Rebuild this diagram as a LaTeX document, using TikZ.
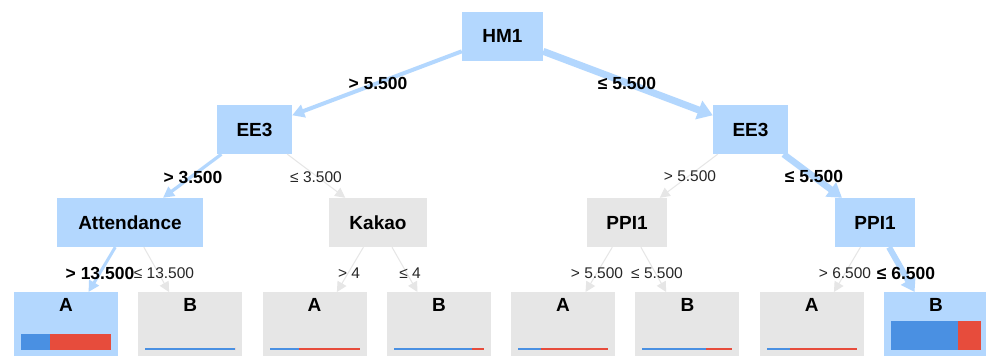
\documentclass[tikz,border=0pt]{standalone}
\usepackage{fontspec}
\setmainfont{Liberation Sans}
\usetikzlibrary{arrows.meta,calc}
\definecolor{nodeblue}{RGB}{179,215,254}
\definecolor{nodegray}{RGB}{230,230,230}
\definecolor{edgegray}{RGB}{230,230,230}
\definecolor{barblue}{RGB}{74,144,226}
\definecolor{barred}{RGB}{231,76,60}
\newcommand{\leafbar}[3]{%
  \fill[barblue] ($(#1.north)+(-45,58)$) rectangle ($(#1.north)+(-45+90*#2,58-#3)$);
  \fill[barred] ($(#1.north)+(-45+90*#2,58)$) rectangle ($(#1.north)+(45,58-#3)$);
}
\begin{document}
\begin{tikzpicture}[x=1pt,y=-1pt,
  box/.style={rectangle, inner sep=0pt, minimum height=49pt, font=\fontsize{19}{21}\selectfont\bfseries},
  bluebox/.style={box, fill=nodeblue},
  graybox/.style={box, fill=nodegray},
  leafbox/.style={rectangle, inner sep=0pt, minimum width=104pt, minimum height=75pt, anchor=north},
  leafblue/.style={leafbox, fill=nodeblue},
  leafgray/.style={leafbox, fill=nodegray},
  leaftxt/.style={anchor=north, inner sep=0pt, yshift=-6pt, font=\fontsize{19}{21}\selectfont\bfseries},
  lblb/.style={inner sep=0pt, font=\fontsize{17.5}{19}\selectfont\bfseries},
  lblr/.style={inner sep=0pt, text=black!85, font=\fontsize{15.5}{17}\selectfont},
  grayedge/.style={draw=edgegray, line width=1pt, -{Triangle[width=10pt,length=10pt]}}
]
\useasboundingbox (0,0) rectangle (986,356);
\fill[white] (0,0) rectangle (986,356);

% internal nodes
\node[bluebox, minimum width=81pt] (hm1) at (502.5,36) {HM1};
\node[bluebox, minimum width=75pt] (ee3l) at (254.5,129.5) {EE3};
\node[bluebox, minimum width=75pt] (ee3r) at (750.5,129.5) {EE3};
\node[bluebox, minimum width=146pt] (att) at (130,222.5) {Attendance};
\node[graybox, minimum width=98pt] (kakao) at (378,222.5) {Kakao};
\node[graybox, minimum width=80pt] (ppim) at (627,222.5) {PPI1};
\node[bluebox, minimum width=80pt] (ppir) at (875,222.5) {PPI1};

% leaves
\node[leafblue] (a1) at (66,292) {};
\node[leafgray] (b1) at (190.3,292) {};
\node[leafgray] (a2) at (314.6,292) {};
\node[leafgray] (b2) at (438.9,292) {};
\node[leafgray] (a3) at (563.1,292) {};
\node[leafgray] (b3) at (687.4,292) {};
\node[leafgray] (a4) at (811.7,292) {};
\node[leafblue] (b4) at (936,292) {};
\node[leaftxt] (a1t) at (a1.north) {A};
\node[leaftxt] (b1t) at (b1.north) {B};
\node[leaftxt] (a2t) at (a2.north) {A};
\node[leaftxt] (b2t) at (b2.north) {B};
\node[leaftxt] (a3t) at (a3.north) {A};
\node[leaftxt] (b3t) at (b3.north) {B};
\node[leaftxt] (a4t) at (a4.north) {A};
\node[leaftxt] (b4t) at (b4.north) {B};

% bars
\leafbar{a1}{0.32}{16}
\leafbar{b1}{1.0}{2.5}
\leafbar{a2}{0.33}{2.5}
\leafbar{b2}{0.87}{2.5}
\leafbar{a3}{0.25}{2.5}
\leafbar{b3}{0.71}{2.5}
\leafbar{a4}{0.26}{2.5}
\leafbar{b4}{0.74}{29}

% edges
\draw[draw=nodeblue, line width=4pt, -{Triangle[width=13pt,length=12pt]}] (hm1) -- (ee3l);
\draw[draw=nodeblue, line width=7pt, -{Triangle[width=19pt,length=15pt]}] (hm1) -- (ee3r);
\draw[draw=nodeblue, line width=3.2pt, -{Triangle[width=11pt,length=11pt]}] (ee3l) -- (att);
\draw[grayedge] (ee3l) -- (kakao);
\draw[grayedge] (ee3r) -- (ppim);
\draw[draw=nodeblue, line width=6.5pt, -{Triangle[width=17pt,length=14pt]}] (ee3r) -- (ppir);
\draw[draw=nodeblue, line width=3pt, -{Triangle[width=11pt,length=11pt]}] (att) -- (a1);
\draw[grayedge] (att) -- (b1);
\draw[grayedge] (kakao) -- (a2);
\draw[grayedge] (kakao) -- (b2);
\draw[grayedge] (ppim) -- (a3);
\draw[grayedge] (ppim) -- (b3);
\draw[grayedge] (ppir) -- (a4);
\draw[draw=nodeblue, line width=6pt, -{Triangle[width=16pt,length=13pt]}] (ppir) -- (b4);

% edge labels
\node[lblb] (l1) at (378,83) {> 5.500};
\node[lblb] (l2) at (627,83) {≤ 5.500};
\node[lblb] (l3) at (193,177) {> 3.500};
\node[lblr] (l4) at (316,177) {≤ 3.500};
\node[lblr] (l5) at (690,176) {> 5.500};
\node[lblb] (l6) at (814,176) {≤ 5.500};
\node[lblb] (l7) at (100,273) {> 13.500};
\node[lblr] (l8) at (164,273) {≤ 13.500};
\node[lblr] (l9) at (349,273) {> 4};
\node[lblr] (l10) at (410,273) {≤ 4};
\node[lblr] (l11) at (597,273) {> 5.500};
\node[lblr] (l12) at (657,273) {≤ 5.500};
\node[lblr] (l13) at (845,273) {> 6.500};
\node[lblb] (l14) at (906,273) {≤ 6.500};
\end{tikzpicture}
\end{document}
